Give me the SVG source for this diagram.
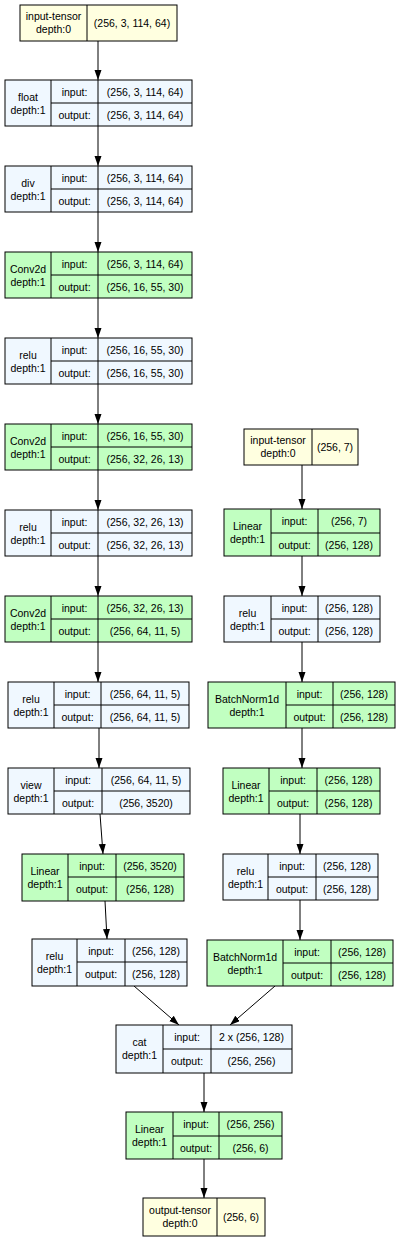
<svg xmlns="http://www.w3.org/2000/svg" width="400" height="1239" viewBox="0 0 400 1239">
<defs>
<marker id="ah" markerUnits="userSpaceOnUse" markerWidth="12" markerHeight="10" refX="10" refY="3.5" orient="auto">
<path d="M0,0 L10,3.5 L0,7 Z" fill="#000"/>
</marker>
<style>
rect{stroke:#000;stroke-width:1}
line.d{stroke:#000;stroke-width:1}
.y{fill:#ffffe0}.b{fill:#f0f8ff}.g{fill:#c1ffc1}
text{font-family:"Liberation Sans",Arial,sans-serif;font-size:10.5px;fill:#000;text-anchor:middle}
.e path{stroke:#000;stroke-width:1;fill:none;marker-end:url(#ah)}
</style>
</defs>
<rect x="0" y="0" width="400" height="1239" fill="#fff" style="stroke:none"/>
<g class="e" id="edges">
<path d="M98,41 L98,80"/>
<path d="M98,126 L98,166"/>
<path d="M98,212 L98,252"/>
<path d="M98,298 L98,338"/>
<path d="M98,384 L98,424"/>
<path d="M98,470 L98,510"/>
<path d="M98,556 L98,596"/>
<path d="M98,642 L98,682"/>
<path d="M99,728 L99,768"/>
<path d="M100,814 L103,854"/>
<path d="M105,901 L107,939"/>
<path d="M134,986 L179,1025"/>
<path d="M302,465 L302,509"/>
<path d="M302,556 L302,596"/>
<path d="M302,642 L302,682"/>
<path d="M302,728 L302,768"/>
<path d="M300,814 L300,854"/>
<path d="M300,900 L300,940"/>
<path d="M275,986 L230,1025"/>
<path d="M204,1073 L204,1112"/>
<path d="M204,1159 L204,1198"/>
</g>
<g id="n1"><rect class="y" x="20" y="5" width="157" height="36"/><line class="d" x1="87" y1="5" x2="87" y2="41"/><text x="53.5" y="20">input-tensor</text><text x="53.5" y="33">depth:0</text><text x="132" y="27">(256, 3, 114, 64)</text></g>
<g id="n2"><rect class="b" x="5" y="80" width="187" height="46"/><line class="d" x1="51" y1="80" x2="51" y2="126"/><line class="d" x1="98" y1="80" x2="98" y2="126"/><line class="d" x1="51" y1="103" x2="192" y2="103"/><text x="28" y="101">float</text><text x="28" y="113.5">depth:1</text><text x="74.5" y="95.5">input:</text><text x="74.5" y="118.5">output:</text><text x="145" y="95.5">(256, 3, 114, 64)</text><text x="145" y="118.5">(256, 3, 114, 64)</text></g>
<g id="n3"><rect class="b" x="5" y="166" width="187" height="46"/><line class="d" x1="51" y1="166" x2="51" y2="212"/><line class="d" x1="98" y1="166" x2="98" y2="212"/><line class="d" x1="51" y1="189" x2="192" y2="189"/><text x="28" y="187">div</text><text x="28" y="199.5">depth:1</text><text x="74.5" y="181.5">input:</text><text x="74.5" y="204.5">output:</text><text x="145" y="181.5">(256, 3, 114, 64)</text><text x="145" y="204.5">(256, 3, 114, 64)</text></g>
<g id="n4"><rect class="g" x="5" y="252" width="187" height="46"/><line class="d" x1="51" y1="252" x2="51" y2="298"/><line class="d" x1="98" y1="252" x2="98" y2="298"/><line class="d" x1="51" y1="275" x2="192" y2="275"/><text x="28" y="273">Conv2d</text><text x="28" y="285.5">depth:1</text><text x="74.5" y="267.5">input:</text><text x="74.5" y="290.5">output:</text><text x="145" y="267.5">(256, 3, 114, 64)</text><text x="145" y="290.5">(256, 16, 55, 30)</text></g>
<g id="n5"><rect class="b" x="5" y="338" width="187" height="46"/><line class="d" x1="51" y1="338" x2="51" y2="384"/><line class="d" x1="98" y1="338" x2="98" y2="384"/><line class="d" x1="51" y1="361" x2="192" y2="361"/><text x="28" y="359">relu</text><text x="28" y="371.5">depth:1</text><text x="74.5" y="353.5">input:</text><text x="74.5" y="376.5">output:</text><text x="145" y="353.5">(256, 16, 55, 30)</text><text x="145" y="376.5">(256, 16, 55, 30)</text></g>
<g id="n6"><rect class="g" x="5" y="424" width="187" height="46"/><line class="d" x1="51" y1="424" x2="51" y2="470"/><line class="d" x1="98" y1="424" x2="98" y2="470"/><line class="d" x1="51" y1="447" x2="192" y2="447"/><text x="28" y="445">Conv2d</text><text x="28" y="457.5">depth:1</text><text x="74.5" y="439.5">input:</text><text x="74.5" y="462.5">output:</text><text x="145" y="439.5">(256, 16, 55, 30)</text><text x="145" y="462.5">(256, 32, 26, 13)</text></g>
<g id="n7"><rect class="b" x="5" y="510" width="187" height="46"/><line class="d" x1="51" y1="510" x2="51" y2="556"/><line class="d" x1="98" y1="510" x2="98" y2="556"/><line class="d" x1="51" y1="533" x2="192" y2="533"/><text x="28" y="531">relu</text><text x="28" y="543.5">depth:1</text><text x="74.5" y="525.5">input:</text><text x="74.5" y="548.5">output:</text><text x="145" y="525.5">(256, 32, 26, 13)</text><text x="145" y="548.5">(256, 32, 26, 13)</text></g>
<g id="n8"><rect class="g" x="5" y="596" width="187" height="46"/><line class="d" x1="51" y1="596" x2="51" y2="642"/><line class="d" x1="98" y1="596" x2="98" y2="642"/><line class="d" x1="51" y1="619" x2="192" y2="619"/><text x="28" y="617">Conv2d</text><text x="28" y="629.5">depth:1</text><text x="74.5" y="611.5">input:</text><text x="74.5" y="634.5">output:</text><text x="145" y="611.5">(256, 32, 26, 13)</text><text x="145" y="634.5">(256, 64, 11, 5)</text></g>
<g id="n9"><rect class="b" x="8" y="682" width="181" height="46"/><line class="d" x1="54" y1="682" x2="54" y2="728"/><line class="d" x1="101" y1="682" x2="101" y2="728"/><line class="d" x1="54" y1="705" x2="189" y2="705"/><text x="31" y="703">relu</text><text x="31" y="715.5">depth:1</text><text x="77.5" y="697.5">input:</text><text x="77.5" y="720.5">output:</text><text x="145" y="697.5">(256, 64, 11, 5)</text><text x="145" y="720.5">(256, 64, 11, 5)</text></g>
<g id="n10"><rect class="b" x="8" y="768" width="182" height="46"/><line class="d" x1="54" y1="768" x2="54" y2="814"/><line class="d" x1="102" y1="768" x2="102" y2="814"/><line class="d" x1="54" y1="791" x2="190" y2="791"/><text x="31" y="789">view</text><text x="31" y="801.5">depth:1</text><text x="78" y="783.5">input:</text><text x="78" y="806.5">output:</text><text x="146" y="783.5">(256, 64, 11, 5)</text><text x="146" y="806.5">(256, 3520)</text></g>
<g id="n11"><rect class="g" x="22" y="854" width="162" height="47"/><line class="d" x1="68" y1="854" x2="68" y2="901"/><line class="d" x1="116" y1="854" x2="116" y2="901"/><line class="d" x1="68" y1="877" x2="184" y2="877"/><text x="45" y="875">Linear</text><text x="45" y="887.5">depth:1</text><text x="92" y="869.5">input:</text><text x="92" y="893">output:</text><text x="150" y="869.5">(256, 3520)</text><text x="150" y="893">(256, 128)</text></g>
<g id="n12"><rect class="b" x="32" y="939" width="155" height="47"/><line class="d" x1="77" y1="939" x2="77" y2="986"/><line class="d" x1="125" y1="939" x2="125" y2="986"/><line class="d" x1="77" y1="962" x2="187" y2="962"/><text x="54.5" y="960">relu</text><text x="54.5" y="972.5">depth:1</text><text x="101" y="954.5">input:</text><text x="101" y="978">output:</text><text x="156" y="954.5">(256, 128)</text><text x="156" y="978">(256, 128)</text></g>
<g id="n13"><rect class="y" x="244" y="429" width="114" height="36"/><line class="d" x1="312" y1="429" x2="312" y2="465"/><text x="278" y="444">input-tensor</text><text x="278" y="457">depth:0</text><text x="335" y="451">(256, 7)</text></g>
<g id="n14"><rect class="g" x="224" y="509" width="156" height="47"/><line class="d" x1="271" y1="509" x2="271" y2="556"/><line class="d" x1="318" y1="509" x2="318" y2="556"/><line class="d" x1="271" y1="533" x2="380" y2="533"/><text x="247.5" y="530">Linear</text><text x="247.5" y="542.5">depth:1</text><text x="294.5" y="525">input:</text><text x="294.5" y="548.5">output:</text><text x="349" y="525">(256, 7)</text><text x="349" y="548.5">(256, 128)</text></g>
<g id="n15"><rect class="b" x="224" y="596" width="156" height="46"/><line class="d" x1="271" y1="596" x2="271" y2="642"/><line class="d" x1="318" y1="596" x2="318" y2="642"/><line class="d" x1="271" y1="619" x2="380" y2="619"/><text x="247.5" y="617">relu</text><text x="247.5" y="629.5">depth:1</text><text x="294.5" y="611.5">input:</text><text x="294.5" y="634.5">output:</text><text x="349" y="611.5">(256, 128)</text><text x="349" y="634.5">(256, 128)</text></g>
<g id="n16"><rect class="g" x="208" y="682" width="187" height="46"/><line class="d" x1="286" y1="682" x2="286" y2="728"/><line class="d" x1="333" y1="682" x2="333" y2="728"/><line class="d" x1="286" y1="705" x2="395" y2="705"/><text x="247" y="703">BatchNorm1d</text><text x="247" y="715.5">depth:1</text><text x="309.5" y="697.5">input:</text><text x="309.5" y="720.5">output:</text><text x="364" y="697.5">(256, 128)</text><text x="364" y="720.5">(256, 128)</text></g>
<g id="n17"><rect class="g" x="223" y="768" width="157" height="46"/><line class="d" x1="269" y1="768" x2="269" y2="814"/><line class="d" x1="317" y1="768" x2="317" y2="814"/><line class="d" x1="269" y1="791" x2="380" y2="791"/><text x="246" y="789">Linear</text><text x="246" y="801.5">depth:1</text><text x="293" y="783.5">input:</text><text x="293" y="806.5">output:</text><text x="348.5" y="783.5">(256, 128)</text><text x="348.5" y="806.5">(256, 128)</text></g>
<g id="n18"><rect class="b" x="223" y="854" width="155" height="46"/><line class="d" x1="268" y1="854" x2="268" y2="900"/><line class="d" x1="316" y1="854" x2="316" y2="900"/><line class="d" x1="268" y1="877" x2="378" y2="877"/><text x="245.5" y="875">relu</text><text x="245.5" y="887.5">depth:1</text><text x="292" y="869.5">input:</text><text x="292" y="892.5">output:</text><text x="347" y="869.5">(256, 128)</text><text x="347" y="892.5">(256, 128)</text></g>
<g id="n19"><rect class="g" x="207" y="940" width="186" height="46"/><line class="d" x1="283" y1="940" x2="283" y2="986"/><line class="d" x1="331" y1="940" x2="331" y2="986"/><line class="d" x1="283" y1="963" x2="393" y2="963"/><text x="245" y="961">BatchNorm1d</text><text x="245" y="973.5">depth:1</text><text x="307" y="955.5">input:</text><text x="307" y="978.5">output:</text><text x="362" y="955.5">(256, 128)</text><text x="362" y="978.5">(256, 128)</text></g>
<g id="n20"><rect class="b" x="116" y="1025" width="176" height="48"/><line class="d" x1="163" y1="1025" x2="163" y2="1073"/><line class="d" x1="211" y1="1025" x2="211" y2="1073"/><line class="d" x1="163" y1="1049" x2="292" y2="1049"/><text x="139.5" y="1046">cat</text><text x="139.5" y="1058.5">depth:1</text><text x="187" y="1041">input:</text><text x="187" y="1065">output:</text><text x="251.5" y="1041">2 x (256, 128)</text><text x="251.5" y="1065">(256, 256)</text></g>
<g id="n21"><rect class="g" x="126" y="1112" width="156" height="47"/><line class="d" x1="173" y1="1112" x2="173" y2="1159"/><line class="d" x1="219" y1="1112" x2="219" y2="1159"/><line class="d" x1="173" y1="1136" x2="282" y2="1136"/><text x="149.5" y="1133">Linear</text><text x="149.5" y="1145.5">depth:1</text><text x="196" y="1128">input:</text><text x="196" y="1151.5">output:</text><text x="250.5" y="1128">(256, 256)</text><text x="250.5" y="1151.5">(256, 6)</text></g>
<g id="n22"><rect class="y" x="143" y="1198" width="122" height="38"/><line class="d" x1="217" y1="1198" x2="217" y2="1236"/><text x="180" y="1214">output-tensor</text><text x="180" y="1227">depth:0</text><text x="241" y="1221">(256, 6)</text></g>
</svg>
